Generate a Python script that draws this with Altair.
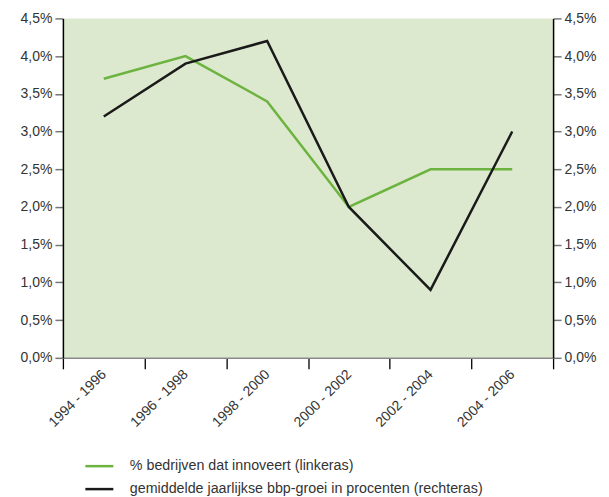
import altair as alt
import pandas as pd

periods = ["1994 - 1996", "1996 - 1998", "1998 - 2000", "2000 - 2002", "2002 - 2004", "2004 - 2006"]
innov = [3.7, 4.0, 3.4, 2.0, 2.5, 2.5]
bbp = [3.2, 3.9, 4.2, 2.0, 0.9, 3.0]
s1 = "% bedrijven dat innoveert (linkeras)"
s2 = "gemiddelde jaarlijkse bbp-groei in procenten (rechteras)"

df = pd.DataFrame({
    "periode": periods * 2,
    "waarde": innov + bbp,
    "reeks": [s1] * len(periods) + [s2] * len(periods),
})

FONT = "Liberation Sans"
TXT = "#333333"
lab = "replace(format(datum.value, '.1f'), '.', ',') + '%'"

color = alt.Color(
    "reeks:N",
    scale=alt.Scale(domain=[s1, s2], range=["#6cb33f", "#1a1a1a"]),
    legend=alt.Legend(
        title=None, orient="none", legendX=21, legendY=433, direction="vertical",
        symbolType="stroke", symbolStrokeWidth=2.5, symbolSize=784, labelLimit=0,
        labelFont=FONT, labelFontSize=14.3, labelColor=TXT, rowPadding=-3, labelOffset=15,
    ),
)

x = alt.X(
    "periode:N", sort=periods, title=None,
    scale=alt.Scale(paddingInner=0, paddingOuter=0),
    axis=alt.Axis(
        labelAngle=-45, labelAlign="right", labelBaseline="middle", labelFont=FONT,
        labelFontSize=14, labelColor=TXT, tickBand="extent", tickColor="#000000",
        tickSize=11, tickWidth=1.3, domainColor="#888888", domainWidth=1.5, labelPadding=3,
    ),
)

yscale = alt.Scale(domain=[0, 4.5], nice=False)

def yaxis(orient):
    return alt.Axis(
        orient=orient, values=[0, 0.5, 1, 1.5, 2, 2.5, 3, 3.5, 4, 4.5], labelExpr=lab,
        grid=False, domainColor="#000000", domainWidth=1.5, tickColor="#777777",
        tickSize=8, tickWidth=1.5, labelFont=FONT, labelFontSize=14, labelColor=TXT,
        labelPadding=3, title=None,
    )

left = alt.Chart(df).transform_filter(alt.datum.reeks == s1).mark_line(strokeWidth=2.5).encode(
    x=x, y=alt.Y("waarde:Q", scale=yscale, axis=yaxis("left")), color=color
)
right = alt.Chart(df).transform_filter(alt.datum.reeks == s2).mark_line(strokeWidth=2.5).encode(
    x=x, y=alt.Y("waarde:Q", scale=yscale, axis=yaxis("right")), color=color
)

chart = alt.layer(left, right).resolve_scale(y="independent").properties(
    width=491, height=340, padding={"left": 12, "top": 3, "right": 5, "bottom": 5},
    background="#ffffff",
).configure_view(fill="#dde9cf", stroke=None)

chart.save("out.html", embed_options={"renderer": "svg", "actions": False})
